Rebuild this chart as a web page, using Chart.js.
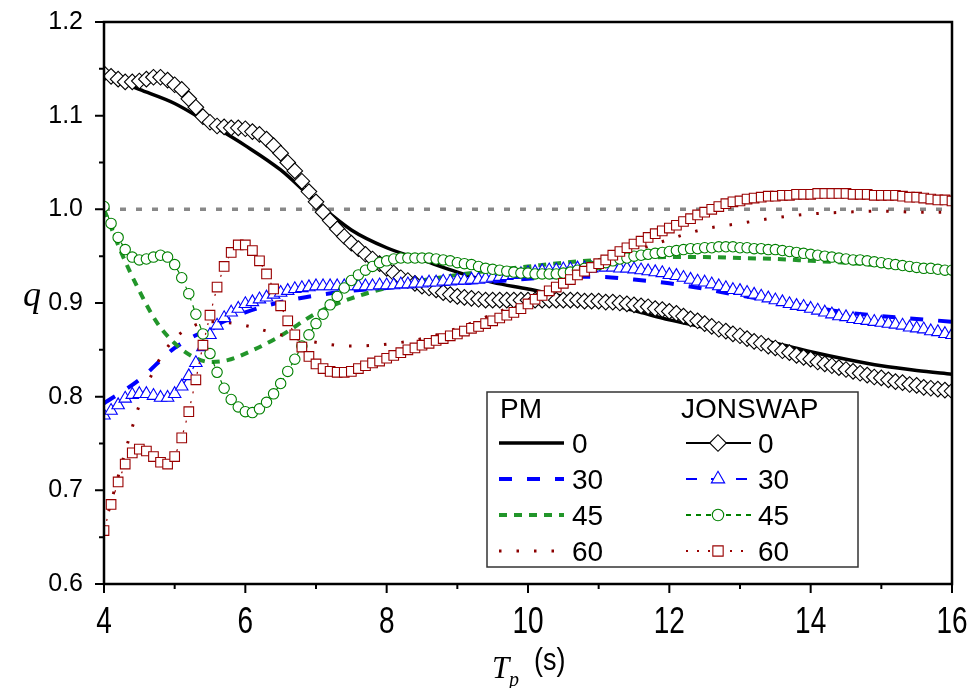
<!DOCTYPE html>
<html>
<head>
<meta charset="utf-8">
<script src="https://cdn.jsdelivr.net/npm/chart.js@4.4.1/dist/chart.umd.min.js"></script>
<style>
html,body{margin:0;padding:0;background:#fff;}
#wrap{width:973px;height:688px;position:relative;}
</style>
</head>
<body>
<div id="wrap"><canvas id="c" width="973" height="688"></canvas></div>
<script>
// ---------- data ----------
const tp = [
 4.0,4.1,4.2,4.3,4.4,4.5,4.6,4.7,4.8,4.9,
 5.0,5.1,5.2,5.3,5.4,5.5,5.6,5.7,5.8,5.9,
 6.0,6.1,6.2,6.3,6.4,6.5,6.6,6.7,6.8,6.9,
 7.0,7.1,7.2,7.3,7.4,7.5,7.6,7.7,7.8,7.9,
 8.0,8.1,8.2,8.3,8.4,8.5,8.6,8.7,8.8,8.9,
 9.0,9.1,9.2,9.3,9.4,9.5,9.6,9.7,9.8,9.9,
 10.0,10.1,10.2,10.3,10.4,10.5,10.6,10.7,10.8,10.9,
 11.0,11.1,11.2,11.3,11.4,11.5,11.6,11.7,11.8,11.9,
 12.0,12.1,12.2,12.3,12.4,12.5,12.6,12.7,12.8,12.9,
 13.0,13.1,13.2,13.3,13.4,13.5,13.6,13.7,13.8,13.9,
 14.0,14.1,14.2,14.3,14.4,14.5,14.6,14.7,14.8,14.9,
 15.0,15.1,15.2,15.3,15.4,15.5,15.6,15.7,15.8,15.9,
 16.0];

const jonswap0 = [
 1.145,1.142,1.139,1.136,1.136,1.137,1.139,1.141,1.141,1.138,
 1.133,1.128,1.118,1.109,1.099,1.093,1.089,1.088,1.087,1.087,
 1.086,1.083,1.080,1.075,1.068,1.060,1.050,1.041,1.030,1.019,
 1.008,0.997,0.988,0.979,0.971,0.964,0.958,0.952,0.947,0.942,
 0.937,0.932,0.927,0.924,0.921,0.918,0.916,0.914,0.911,0.909,
 0.907,0.906,0.905,0.904,0.903,0.903,0.903,0.903,0.903,0.903,
 0.903,0.903,0.903,0.903,0.903,0.903,0.903,0.903,0.902,0.902,
 0.902,0.901,0.901,0.900,0.899,0.898,0.897,0.896,0.894,0.893,
 0.891,0.889,0.886,0.883,0.881,0.878,0.875,0.872,0.870,0.867,
 0.865,0.862,0.859,0.857,0.854,0.852,0.849,0.847,0.844,0.842,
 0.840,0.837,0.835,0.833,0.831,0.829,0.827,0.825,0.823,0.821,
 0.820,0.818,0.816,0.815,0.813,0.812,0.810,0.809,0.808,0.807,
 0.806];

const jonswap30 = [
 0.780,0.785,0.791,0.798,0.802,0.803,0.803,0.801,0.799,0.799,
 0.803,0.811,0.822,0.836,0.853,0.866,0.876,0.884,0.890,0.894,
 0.899,0.901,0.904,0.906,0.909,0.911,0.913,0.915,0.916,0.917,
 0.918,0.918,0.918,0.918,0.918,0.918,0.918,0.918,0.918,0.919,
 0.919,0.919,0.920,0.920,0.921,0.921,0.922,0.922,0.923,0.923,
 0.924,0.924,0.925,0.925,0.926,0.927,0.928,0.929,0.930,0.931,
 0.932,0.933,0.934,0.935,0.935,0.936,0.936,0.937,0.937,0.937,
 0.938,0.938,0.938,0.937,0.937,0.936,0.935,0.934,0.933,0.932,
 0.930,0.929,0.927,0.925,0.923,0.922,0.920,0.918,0.916,0.914,
 0.913,0.911,0.909,0.907,0.905,0.903,0.901,0.899,0.897,0.896,
 0.894,0.892,0.890,0.888,0.886,0.885,0.883,0.882,0.881,0.880,
 0.879,0.878,0.877,0.876,0.874,0.873,0.872,0.870,0.869,0.867,
 0.866];

const jonswap45 = [
 1.003,0.985,0.970,0.957,0.949,0.946,0.947,0.949,0.951,0.949,
 0.941,0.927,0.910,0.888,0.867,0.846,0.826,0.809,0.797,0.789,
 0.784,0.783,0.787,0.794,0.803,0.814,0.827,0.840,0.854,0.866,
 0.878,0.888,0.898,0.907,0.916,0.924,0.930,0.935,0.939,0.943,
 0.945,0.947,0.948,0.948,0.948,0.948,0.948,0.947,0.946,0.945,
 0.943,0.942,0.941,0.939,0.937,0.936,0.935,0.934,0.933,0.932,
 0.932,0.931,0.931,0.931,0.931,0.932,0.933,0.935,0.937,0.939,
 0.941,0.943,0.945,0.947,0.948,0.950,0.951,0.952,0.953,0.954,
 0.955,0.956,0.957,0.958,0.958,0.959,0.959,0.960,0.960,0.960,
 0.959,0.959,0.958,0.958,0.957,0.957,0.956,0.955,0.954,0.953,
 0.952,0.951,0.950,0.949,0.948,0.947,0.946,0.946,0.945,0.944,
 0.943,0.942,0.941,0.940,0.939,0.938,0.937,0.937,0.936,0.935,
 0.935];

const jonswap60 = [
 0.657,0.685,0.709,0.728,0.740,0.744,0.742,0.736,0.730,0.728,
 0.736,0.756,0.784,0.818,0.855,0.887,0.917,0.939,0.954,0.962,
 0.962,0.956,0.945,0.931,0.915,0.897,0.881,0.866,0.853,0.843,
 0.835,0.830,0.827,0.826,0.826,0.827,0.830,0.833,0.836,0.838,
 0.841,0.844,0.847,0.850,0.852,0.855,0.857,0.860,0.862,0.865,
 0.867,0.870,0.873,0.875,0.878,0.881,0.884,0.887,0.890,0.894,
 0.899,0.904,0.908,0.913,0.917,0.921,0.925,0.930,0.934,0.938,
 0.942,0.946,0.951,0.955,0.959,0.963,0.966,0.970,0.974,0.977,
 0.980,0.983,0.987,0.990,0.994,0.997,1.000,1.003,1.006,1.008,
 1.009,1.011,1.012,1.013,1.014,1.014,1.015,1.015,1.016,1.016,
 1.016,1.017,1.017,1.017,1.017,1.017,1.016,1.016,1.016,1.015,
 1.015,1.015,1.015,1.014,1.013,1.013,1.012,1.011,1.010,1.010,
 1.009];

const pmTp = [4,4.5,5,5.5,6,6.5,7,7.5,8,8.5,9,9.5,10,10.5,11,11.5,12,12.5,13,13.5,14,14.5,15,15.5,16];
const pm0  = [1.143,1.128,1.113,1.091,1.068,1.042,1.008,0.978,0.959,0.946,0.933,0.922,0.915,0.907,0.901,0.892,0.882,0.874,0.865,0.857,0.848,0.840,0.833,0.828,0.824];
const pm30 = [0.793,0.818,0.852,0.873,0.890,0.901,0.908,0.913,0.916,0.919,0.921,0.923,0.926,0.928,0.928,0.925,0.921,0.915,0.908,0.902,0.896,0.890,0.886,0.883,0.880];

const pmTpFine = [4,4.25,4.5,4.75,5,5.25,5.5,5.75,6,6.5,7,7.5,8,8.5,9,9.5,10,10.5,11,11.5,12,12.5,13,13.5,14,14.5,15,15.5,16];
const pm45 = [1.000,0.953,0.913,0.879,0.857,0.843,0.837,0.839,0.846,0.865,0.889,0.905,0.916,0.924,0.930,0.935,0.939,0.943,0.946,0.948,0.949,0.949,0.948,0.947,0.945,0.943,0.940,0.938,0.935];
const pm60 = [0.660,0.728,0.791,0.835,0.862,0.875,0.880,0.879,0.876,0.866,0.858,0.854,0.856,0.862,0.873,0.888,0.904,0.924,0.940,0.955,0.968,0.979,0.985,0.991,0.995,0.997,0.998,0.997,0.997];

const refTp = [4, 16];
const refQ  = [1.0, 1.0];

const xTickValues = [4, 6, 8, 10, 12, 14, 16];
const xTickLabels = ['4', '6', '8', '10', '12', '14', '16'];
const angles = ['0', '30', '45', '60'];
const legendHeads = ['PM', 'JONSWAP'];
const yTitle = 'q';
const xTitleMain = 'T';
const xTitleSub = 'p';
const xTitleUnit = '(s)';

// ---------- helpers ----------
const pts = (xs, ys) => xs.map((x, i) => ({x: x, y: ys[i]}));
const SANS = '"Liberation Sans", Arial, sans-serif';
const SERIF = '"Liberation Serif", "Times New Roman", serif';

const pmStyle = [
  {color:'#000000', width:3.5, dash:[]},
  {color:'#0000ff', width:4,   dash:[13,15]},
  {color:'#22962a', width:4,   dash:[8,7]},
  {color:'#8b0000', width:3,   dash:[2.5,15]}
];
const jStyle = [
  {color:'#000000', dash:[],      pointStyle:'rectRot',  radius:7.8},
  {color:'#0000ff', dash:[10,12], pointStyle:'triangle', radius:7.2},
  {color:'#008000', dash:[5,5],   pointStyle:'circle',   radius:5.2},
  {color:'#990000', dash:[2,8],   pointStyle:'rect',     radius:6.8}
];

const pmData = [pts(pmTp, pm0), pts(pmTp, pm30), pts(pmTpFine, pm45), pts(pmTpFine, pm60)];
const jData  = [pts(tp, jonswap0), pts(tp, jonswap30), pts(tp, jonswap45), pts(tp, jonswap60)];

const datasets = [];
datasets.push({
  label:'ref', data: pts(refTp, refQ), borderColor:'#888888', borderWidth:3.5,
  borderDash:[6,10], pointRadius:0, fill:false, order:100, clip:0
});
pmData.forEach((d, i) => {
  datasets.push({
    label:'PM ' + angles[i], data:d, borderColor:pmStyle[i].color, borderWidth:pmStyle[i].width,
    borderDash:pmStyle[i].dash, pointRadius:0, fill:false, cubicInterpolationMode:'monotone',
    order: 90 - i, clip:0, borderCapStyle:'butt'
  });
});
jData.forEach((d, i) => {
  datasets.push({
    label:'JONSWAP ' + angles[i], data:d, borderColor:jStyle[i].color, borderWidth:1.2,
    borderDash:jStyle[i].dash, pointStyle:jStyle[i].pointStyle, pointRadius:jStyle[i].radius,
    pointBackgroundColor:'#ffffff', pointBorderColor:jStyle[i].color, pointBorderWidth:1.1,
    fill:false, tension:0, order: 40 - i, clip:0
  });
});

// ---------- plugins ----------
const framePlugin = {
  id:'frame',
  afterDatasetsDraw(chart){
    const {ctx, chartArea:a, scales:{x, y}} = chart;
    ctx.save();
    ctx.strokeStyle = '#000'; ctx.lineWidth = 2.5; ctx.setLineDash([]);
    ctx.strokeRect(a.left, a.top, a.right - a.left, a.bottom - a.top);
    ctx.lineWidth = 2;
    ctx.beginPath();
    for (let v = 4; v <= 16.001; v += 1) {
      const px = x.getPixelForValue(v);
      const len = (Math.round(v) % 2 === 0) ? 9 : 5;
      ctx.moveTo(px, a.bottom); ctx.lineTo(px, a.bottom + len);
    }
    for (let k = 0; k <= 12; k++) {
      const v = 0.6 + k * 0.05;
      const py = y.getPixelForValue(v);
      const len = (k % 2 === 0) ? 9 : 5;
      ctx.moveTo(a.left, py); ctx.lineTo(a.left - len, py);
    }
    ctx.stroke();
    // x tick labels (condensed, as in the original figure)
    ctx.fillStyle = '#000';
    ctx.font = '28px ' + SANS;
    ctx.textAlign = 'center'; ctx.textBaseline = 'alphabetic';
    xTickValues.forEach((v, i) => {
      const px = x.getPixelForValue(v);
      ctx.save();
      ctx.translate(px, 633);
      ctx.scale(1, 1.32);
      ctx.fillText(xTickLabels[i], 0, 0);
      ctx.restore();
    });
    ctx.restore();
  }
};

const legendPlugin = {
  id:'customLegend',
  afterDraw(chart){
    const ctx = chart.ctx;
    ctx.save();
    const bx = 487, by = 392, bw = 371, bh = 175;
    ctx.fillStyle = '#fff'; ctx.fillRect(bx, by, bw, bh);
    ctx.strokeStyle = '#333'; ctx.lineWidth = 1.5; ctx.setLineDash([]);
    ctx.strokeRect(bx, by, bw, bh);
    ctx.fillStyle = '#000';
    ctx.font = '28px ' + SANS;
    ctx.textAlign = 'left'; ctx.textBaseline = 'alphabetic';
    ctx.fillText(legendHeads[0], 500, 418);
    ctx.fillText(legendHeads[1], 681, 418);
    const rowY = [443, 479, 515, 551];
    for (let i = 0; i < 4; i++) {
      const yy = rowY[i];
      ctx.save();
      ctx.beginPath();
      ctx.strokeStyle = pmStyle[i].color; ctx.lineWidth = pmStyle[i].width;
      ctx.setLineDash(pmStyle[i].dash); ctx.lineCap = 'butt';
      ctx.moveTo(499, yy); ctx.lineTo(564, yy); ctx.stroke();
      ctx.restore();
      ctx.fillStyle = '#000';
      ctx.fillText(angles[i], 572, yy + 10);
      ctx.save();
      ctx.beginPath();
      ctx.strokeStyle = jStyle[i].color; ctx.lineWidth = 2;
      ctx.setLineDash(i === 0 ? [] : (i === 1 ? [11,14] : (i === 2 ? [5,5] : [2,9])));
      ctx.moveTo(686, yy); ctx.lineTo(751, yy); ctx.stroke();
      ctx.setLineDash([]);
      ctx.fillStyle = '#fff'; ctx.strokeStyle = jStyle[i].color; ctx.lineWidth = 1.1;
      Chart.helpers.drawPoint(ctx, {pointStyle:jStyle[i].pointStyle, radius:jStyle[i].radius + 0.5, rotation:0, borderWidth:1.1}, 718, yy);
      ctx.restore();
      ctx.fillStyle = '#000';
      ctx.fillText(angles[i], 758, yy + 10);
    }
    ctx.restore();
  }
};

const titlePlugin = {
  id:'axisTitles',
  afterDraw(chart){
    const ctx = chart.ctx;
    ctx.save();
    ctx.fillStyle = '#000'; ctx.textBaseline = 'alphabetic';
    ctx.font = 'italic 36px ' + SERIF;
    ctx.textAlign = 'center';
    ctx.fillText(yTitle, 32, 306);
    ctx.textAlign = 'left';
    ctx.font = 'italic 31px ' + SERIF;
    ctx.fillText(xTitleMain, 492, 678);
    ctx.font = 'italic 20px ' + SERIF;
    ctx.fillText(xTitleSub, 509, 686);
    ctx.font = '30px ' + SANS;
    ctx.save();
    ctx.translate(534, 670);
    ctx.scale(0.9, 1.05);
    ctx.fillText(xTitleUnit, 0, 0);
    ctx.restore();
    ctx.restore();
  }
};

new Chart(document.getElementById('c'), {
  type:'line',
  data:{datasets},
  options:{
    responsive:false,
    animation:false,
    events:[],
    layout:{padding:{top:22, right:21, left:0, bottom:0}},
    plugins:{legend:{display:false}, tooltip:{enabled:false}},
    scales:{
      x:{
        type:'linear', min:4, max:16,
        afterFit(s){ s.height = 104; s.paddingLeft = 0; s.paddingRight = 0; },
        grid:{display:false, drawTicks:false},
        border:{display:false},
        ticks:{display:false, stepSize:2}
      },
      y:{
        type:'linear', min:0.6, max:1.2,
        afterFit(s){ s.width = 104; s.paddingTop = 0; s.paddingBottom = 0; },
        grid:{display:false, drawTicks:false},
        border:{display:false},
        ticks:{stepSize:0.1, padding:21, color:'#000',
               font:{family:SANS, size:25},
               callback:(v) => Number(v).toFixed(1)}
      }
    }
  },
  plugins:[framePlugin, legendPlugin, titlePlugin]
});
</script>
</body>
</html>
